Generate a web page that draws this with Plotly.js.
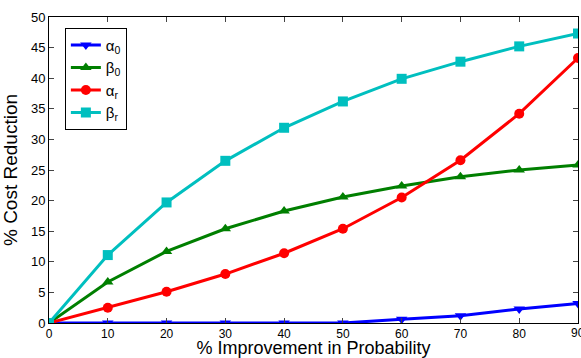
<!DOCTYPE html>
<html><head><meta charset="utf-8">
<script src="https://cdn.plot.ly/plotly-3.0.1.min.js"></script>
<style>body{margin:0}#c{width:581px;height:358px}</style>
</head><body><div id="c"></div>
<script>
const xVals = [0, 10, 20, 30, 40, 50, 60, 70, 80, 90];
const alpha0 = [0, 0, 0, 0, 0, 0, 0.6, 1.2, 2.3, 3.2];
const beta0 = [0, 6.7, 11.7, 15.4, 18.3, 20.6, 22.4, 23.9, 25.0, 25.8];
const alphaR = [0, 2.5, 5.1, 8.0, 11.4, 15.4, 20.5, 26.6, 34.2, 43.3];
const betaR = [0, 11.1, 19.7, 26.5, 31.9, 36.2, 39.9, 42.7, 45.2, 47.3];
const names = ['α<sub>0</sub>', 'β<sub>0</sub>', 'α<sub>r</sub>', 'β<sub>r</sub>'];
const xTicks = [0, 10, 20, 30, 40, 50, 60, 70, 80, 90];
const yTicks = [0, 5, 10, 15, 20, 25, 30, 35, 40, 45, 50];

const mk = (y, name, color, symbol) => ({
  x: xVals, y: y, name: name, type: 'scatter', mode: 'lines+markers',
  line: {color: color, width: 3},
  marker: {color: color, symbol: symbol, size: 10}
});
const data = [
  mk(alpha0, names[0], '#0000ff', 'triangle-down'),
  mk(beta0, names[1], '#007f00', 'triangle-up'),
  mk(alphaR, names[2], '#ff0000', 'circle'),
  mk(betaR, names[3], '#00bfbf', 'square')
];
const font = {family: 'Liberation Sans, Arial, sans-serif', color: '#000'};
const lastTick = xTicks[xTicks.length - 1];
const layout = {
  width: 581, height: 358,
  margin: {l: 49, r: 3, t: 17, b: 35},
  paper_bgcolor: '#fff', plot_bgcolor: '#fff',
  font: font,
  showlegend: true,
  legend: {x: 0.03, y: 0.965, xanchor: 'left', yanchor: 'top',
    bordercolor: '#000', borderwidth: 1, bgcolor: '#fff',
    font: {family: font.family, size: 15, color: '#000'},
    itemwidth: 30, tracegroupgap: 0},
  xaxis: {range: [0, 90], tickvals: xTicks, ticks: 'inside', ticklen: 5,
    showline: true, linecolor: '#000', linewidth: 1, mirror: 'ticks',
    showgrid: false, zeroline: false, tickfont: {size: 12},
    title: {text: '% Improvement in Probability', font: {size: 18}, standoff: 1}},
  yaxis: {range: [0, 50], tickvals: yTicks, ticks: 'inside', ticklen: 5,
    showline: true, linecolor: '#000', linewidth: 1, mirror: 'ticks',
    showgrid: false, zeroline: false, tickfont: {size: 13},
    title: {text: '% Cost Reduction', font: {size: 19}, standoff: 8}},
  annotations: [{x: lastTick, xref: 'x', y: 0, yref: 'paper', yanchor: 'top',
    xanchor: 'center', yshift: -1, text: String(lastTick), showarrow: false,
    font: {family: font.family, size: 12, color: '#000'}}]
};
Plotly.newPlot('c', data, layout, {displayModeBar: false});
</script></body></html>
